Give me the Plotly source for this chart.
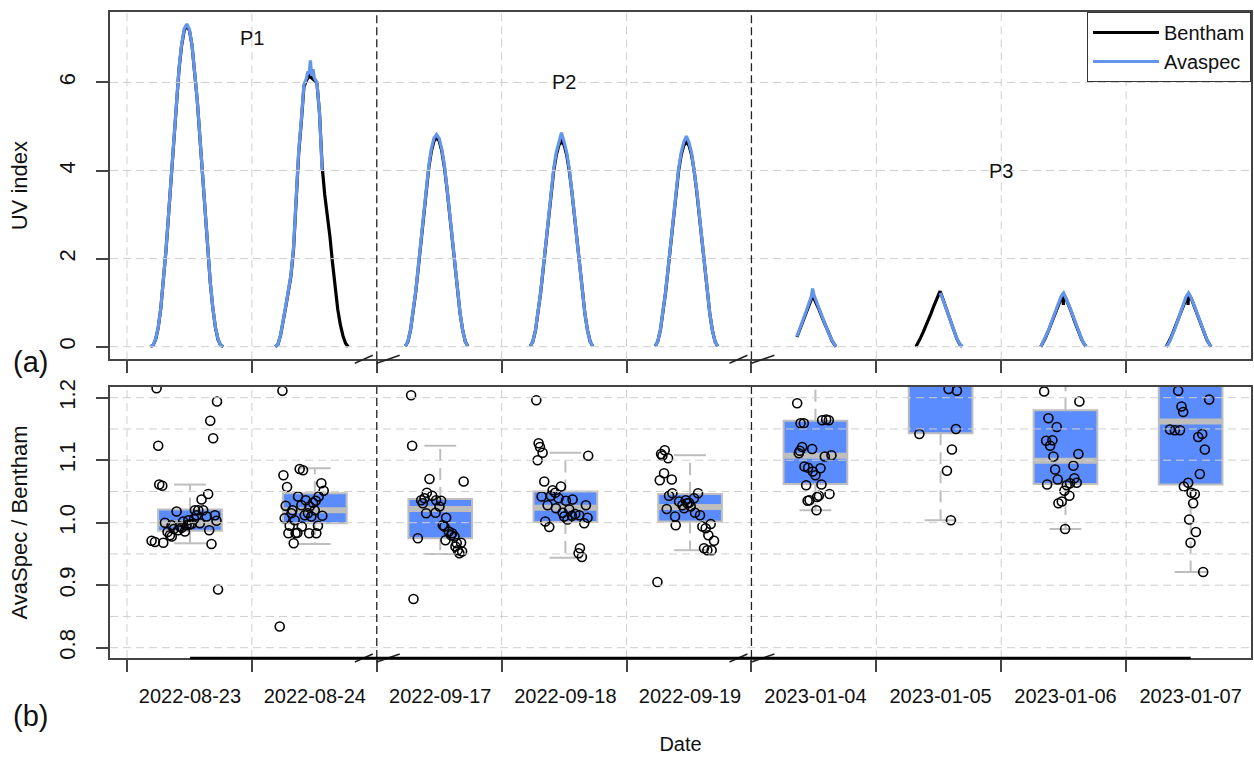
import plotly.graph_objects as go

# ---------------- data ----------------
DATES = ["2022-08-23", "2022-08-24", "2022-09-17", "2022-09-18", "2022-09-19",
         "2023-01-04", "2023-01-05", "2023-01-06", "2023-01-07"]
BREAK_DAYS = [2, 5]
PERIOD_LABELS = ["P1", "P2", "P3"]
PERIOD_X = [1.0, 3.5, 7.0]
PERIOD_Y = [7.0, 6.0, 4.0]
UV_TICKS = [0, 2, 4, 6]
RATIO_TICKS = [0.8, 0.9, 1.0, 1.1, 1.2]
RATIO_GRID = [0.80, 0.85, 0.90, 0.95, 1.00, 1.05, 1.10, 1.15, 1.20]

# UV index curves (hours UTC, values)
HOURS_AUG = [4.5, 5.0, 5.5, 6.0, 6.5, 7.0, 7.5, 8.0, 8.5, 9.0, 9.5, 10.0, 10.5, 11.0, 11.5,
             12.0, 12.5, 13.0, 13.5, 14.0, 14.5, 15.0, 15.5, 16.0, 16.5, 17.0, 17.5, 18.0, 18.5]
HOURS_SEP = [5.5, 6.0, 6.5, 7.0, 7.5, 8.0, 8.5, 9.0, 9.5, 10.0, 10.5, 11.0, 11.5,
             12.0, 12.5, 13.0, 13.5, 14.0, 14.5, 15.0, 15.5, 16.0, 16.5, 17.0, 17.5]

BEN_0823 = [0.00, 0.03, 0.16, 0.43, 0.87, 1.46, 2.19, 3.01, 3.90, 4.77, 5.60, 6.30, 6.84, 7.18, 7.30,
            7.18, 6.84, 6.30, 5.60, 4.77, 3.90, 3.01, 2.19, 1.46, 0.87, 0.43, 0.16, 0.03, 0.00]
AVA_0823 = [0.00, 0.03, 0.17, 0.44, 0.88, 1.47, 2.20, 3.03, 3.92, 4.79, 5.62, 6.33, 6.87, 7.22, 7.33,
            7.20, 6.85, 6.31, 5.61, 4.78, 3.91, 3.02, 2.20, 1.47, 0.88, 0.44, 0.17, 0.03, 0.00]

BEN_0824 = [0.00, 0.05, 0.25, 0.55, 0.90, 1.25, 1.60, 2.20, 3.40, 4.40, 5.10, 5.90, 6.05, 6.15, 6.10,
            6.05, 6.00, 5.30, 4.10, 3.45, 3.00, 2.50, 1.90, 1.30, 0.85, 0.50, 0.25, 0.08, 0.00]
HOURS_AVA_0824 = [4.5, 5.0, 5.5, 6.0, 6.5, 7.0, 7.5, 8.0, 8.5, 9.0, 9.5, 10.0, 10.5,
                  10.75, 11.0, 11.25, 11.5, 11.75, 12.0, 12.5, 13.0, 13.5]
AVA_0824 = [0.00, 0.05, 0.26, 0.56, 0.92, 1.27, 1.63, 2.25, 3.45, 4.45, 5.15, 5.95, 6.10,
            6.25, 6.20, 6.50, 6.15, 6.30, 6.10, 6.00, 5.30, 4.00]

BEN_0917 = [0.01, 0.12, 0.38, 0.76, 1.25, 1.81, 2.42, 3.02, 3.58, 4.07, 4.44, 4.67, 4.75,
            4.67, 4.44, 4.07, 3.58, 3.02, 2.42, 1.81, 1.25, 0.76, 0.38, 0.12, 0.01]
AVA_0917 = [0.01, 0.13, 0.39, 0.78, 1.28, 1.85, 2.46, 3.06, 3.62, 4.12, 4.50, 4.74, 4.82,
            4.73, 4.49, 4.11, 3.61, 3.05, 2.44, 1.83, 1.26, 0.77, 0.38, 0.12, 0.01]
BEN_0918 = [0.01, 0.12, 0.37, 0.75, 1.23, 1.78, 2.37, 2.96, 3.51, 3.99, 4.35, 4.58, 4.66,
            4.58, 4.35, 3.99, 3.51, 2.96, 2.37, 1.78, 1.23, 0.75, 0.37, 0.12, 0.01]
AVA_0918 = [0.01, 0.12, 0.38, 0.76, 1.25, 1.80, 2.40, 3.00, 3.56, 4.05, 4.42, 4.66, 4.86,
            4.65, 4.41, 4.04, 3.55, 2.99, 2.39, 1.79, 1.24, 0.75, 0.37, 0.12, 0.01]
BEN_0919 = [0.01, 0.12, 0.37, 0.75, 1.23, 1.78, 2.37, 2.96, 3.51, 3.99, 4.35, 4.57, 4.65,
            4.57, 4.35, 3.99, 3.51, 2.96, 2.37, 1.78, 1.23, 0.75, 0.37, 0.12, 0.01]
AVA_0919 = [0.01, 0.12, 0.38, 0.76, 1.25, 1.80, 2.40, 3.00, 3.55, 4.04, 4.41, 4.65, 4.78,
            4.64, 4.40, 4.03, 3.55, 2.99, 2.39, 1.79, 1.24, 0.75, 0.37, 0.12, 0.01]

HOURS_0104 = [8.75, 9.0, 9.5, 10.0, 10.5, 11.0, 11.5, 11.75, 12.0, 12.5, 13.0, 13.5,
              14.0, 14.5, 15.0, 15.5, 16.0, 16.25]
BEN_0104 = [0.22, 0.30, 0.45, 0.60, 0.76, 0.92, 1.06, 1.15, 1.10, 0.98, 0.84, 0.69,
            0.54, 0.39, 0.25, 0.13, 0.04, 0.00]
AVA_0104 = [0.23, 0.32, 0.48, 0.64, 0.80, 0.97, 1.14, 1.32, 1.18, 1.02, 0.86, 0.70,
            0.55, 0.40, 0.26, 0.14, 0.05, 0.00]

HOURS_BEN_0105 = [7.6, 8.0, 8.5, 9.0, 9.5, 10.0, 10.5, 11.0, 11.5, 12.0, 12.25, 12.5,
                  13.0, 13.5, 14.0, 14.5, 15.0, 15.5, 16.0, 16.5]
BEN_0105 = [0.00, 0.08, 0.20, 0.33, 0.46, 0.60, 0.75, 0.91, 1.07, 1.20, 1.26, 1.18,
            1.01, 0.83, 0.65, 0.48, 0.31, 0.17, 0.06, 0.00]
HOURS_AVA_0105 = [12.25, 12.5, 13.0, 13.5, 14.0, 14.5, 15.0, 15.5, 16.0, 16.5]
AVA_0105 = [1.22, 1.16, 1.00, 0.83, 0.66, 0.49, 0.32, 0.18, 0.07, 0.00]

HOURS_BEN_0106 = [7.6, 8.0, 8.5, 9.0, 9.5, 10.0, 10.5, 11.0, 11.5, 11.85, 11.95, 12.05,
                  12.5, 13.0, 13.5, 14.0, 14.5, 15.0, 15.5, 16.0, 16.3]
BEN_0106 = [0.00, 0.08, 0.20, 0.34, 0.50, 0.66, 0.82, 0.98, 1.12, 1.20, 0.95, 1.18,
            1.08, 0.94, 0.78, 0.61, 0.45, 0.29, 0.15, 0.05, 0.00]
HOURS_AVA_0106 = [7.6, 8.0, 8.5, 9.0, 9.5, 10.0, 10.5, 11.0, 11.5, 12.0, 12.5, 13.0,
                  13.5, 14.0, 14.5, 15.0, 15.5, 16.0, 16.3]
AVA_0106 = [0.00, 0.09, 0.21, 0.35, 0.51, 0.67, 0.83, 0.99, 1.14, 1.22, 1.10, 0.95,
            0.79, 0.62, 0.46, 0.30, 0.16, 0.05, 0.00]

HOURS_BEN_0107 = [7.7, 8.0, 8.5, 9.0, 9.5, 10.0, 10.5, 11.0, 11.5, 11.8, 11.9, 12.0,
                  12.5, 13.0, 13.5, 14.0, 14.5, 15.0, 15.5, 16.0, 16.3]
BEN_0107 = [0.00, 0.06, 0.18, 0.32, 0.47, 0.63, 0.79, 0.95, 1.10, 1.17, 0.95, 1.20,
            1.10, 0.95, 0.79, 0.62, 0.46, 0.30, 0.16, 0.06, 0.00]
HOURS_AVA_0107 = [7.7, 8.0, 8.5, 9.0, 9.5, 10.0, 10.5, 11.0, 11.5, 12.0, 12.5, 13.0,
                  13.5, 14.0, 14.5, 15.0, 15.5, 16.0, 16.3]
AVA_0107 = [0.00, 0.04, 0.15, 0.29, 0.45, 0.62, 0.80, 0.98, 1.13, 1.22, 1.11, 0.96,
            0.80, 0.63, 0.47, 0.31, 0.17, 0.06, 0.00]

BENTHAM = [(HOURS_AUG, BEN_0823), (HOURS_AUG, BEN_0824), (HOURS_SEP, BEN_0917),
           (HOURS_SEP, BEN_0918), (HOURS_SEP, BEN_0919), (HOURS_0104, BEN_0104),
           (HOURS_BEN_0105, BEN_0105), (HOURS_BEN_0106, BEN_0106), (HOURS_BEN_0107, BEN_0107)]
AVASPEC = [(HOURS_AUG, AVA_0823), (HOURS_AVA_0824, AVA_0824), (HOURS_SEP, AVA_0917),
           (HOURS_SEP, AVA_0918), (HOURS_SEP, AVA_0919), (HOURS_0104, AVA_0104),
           (HOURS_AVA_0105, AVA_0105), (HOURS_AVA_0106, AVA_0106), (HOURS_AVA_0107, AVA_0107)]

# AvaSpec / Bentham ratios (hour of measurement, ratio)
RH_0823 = [5.69, 6.0, 17.3, 16.0, 16.56, 6.2, 6.78, 15.6, 14.33, 9.53, 13.05, 13.7, 14.65, 16.9, 15.3,
           7.29, 8.57, 10.17, 11.45, 12.4, 14.0, 17.2, 9.85, 11.13, 15.8, 8.25, 8.6, 4.73, 5.37, 6.97,
           16.24, 17.5, 10.8, 11.8, 12.9, 13.4, 9.0, 10.5, 12.0, 7.8]
RV_0823 = [1.215, 1.123, 1.194, 1.163, 1.135, 1.061, 1.059, 1.046, 1.037, 1.018, 1.020, 1.020, 1.020,
           1.012, 1.010, 1.000, 0.996, 0.994, 0.996, 0.998, 0.999, 1.003, 0.988, 0.986, 0.988, 0.980,
           0.978, 0.971, 0.969, 0.968, 0.966, 0.893, 1.002, 1.004, 1.006, 1.012, 0.990, 0.992, 0.997, 0.985]
RH_0824 = [5.87, 6.06, 6.76, 9.19, 9.83, 13.35, 13.8, 12.83, 12.26, 8.87, 10.34, 6.5, 7.79, 9.51, 11.1,
           11.74, 7.6, 10.15, 11.43, 13.54, 6.31, 8.23, 7.27, 9.6, 12.7, 7.02, 8.4, 8.75, 11.0, 12.38,
           8.04, 5.35, 10.78, 12.07]
RV_0824 = [1.211, 1.076, 1.057, 1.086, 1.084, 1.063, 1.051, 1.042, 1.035, 1.042, 1.036, 1.027, 1.020,
           1.028, 1.026, 1.032, 1.015, 1.012, 1.010, 1.011, 1.007, 1.004, 0.995, 0.994, 0.995, 0.983,
           0.983, 0.984, 0.983, 0.983, 0.967, 0.834, 1.015, 1.020]
RH_0917 = [6.6, 6.8, 7.06, 10.13, 16.7, 7.89, 8.53, 9.17, 9.62, 10.64, 11.41, 12.37, 8.85, 9.49, 11.3,
           12.05, 13.33, 13.0, 13.84, 14.48, 13.2, 14.93, 15.37, 16.2, 15.56, 15.88, 16.4, 15.12, 14.29, 12.69]
RV_0917 = [1.204, 1.123, 0.878, 1.070, 1.066, 0.975, 1.036, 1.039, 1.048, 1.043, 1.036, 1.035, 1.031,
           1.015, 1.016, 1.026, 1.008, 0.994, 0.986, 0.983, 0.972, 0.978, 0.967, 0.968, 0.956, 0.951,
           0.954, 0.962, 0.980, 0.996]
RH_0918 = [6.66, 7.1, 7.36, 7.87, 6.91, 16.63, 8.19, 11.39, 9.79, 10.3, 9.47, 7.68, 10.94, 12.35, 13.63,
           16.19, 8.83, 10.43, 11.71, 12.99, 14.14, 14.91, 16.5, 12.67, 8.38, 15.87, 9.15, 15.04, 14.78,
           15.42, 13.5, 12.03]
RV_0918 = [1.196, 1.127, 1.121, 1.112, 1.100, 1.107, 1.066, 1.058, 1.052, 1.048, 1.043, 1.042, 1.039,
           1.035, 1.037, 1.028, 1.028, 1.023, 1.016, 1.021, 1.014, 1.012, 1.008, 1.005, 1.002, 0.999,
           0.993, 0.959, 0.951, 0.945, 1.011, 1.010]
RH_0919 = [5.93, 6.64, 7.34, 7.98, 6.89, 7.21, 6.38, 8.69, 8.81, 8.17, 7.72, 9.32, 9.45, 10.09, 10.73,
           11.37, 12.01, 12.97, 13.74, 12.33, 13.16, 14.12, 14.57, 15.21, 16.17, 15.72, 16.81, 14.89,
           15.53, 16.36, 11.05, 11.69]
RV_0919 = [0.905, 1.110, 1.116, 1.103, 1.107, 1.079, 1.068, 1.069, 1.047, 1.043, 1.022, 1.010, 0.996,
           1.034, 1.028, 1.036, 1.032, 1.039, 1.047, 1.026, 1.016, 1.012, 0.994, 0.991, 0.998, 0.980,
           0.971, 0.959, 0.956, 0.956, 1.023, 1.031]
RH_0104 = [8.79, 9.43, 10.07, 13.59, 14.36, 14.87, 9.75, 11.67, 9.11, 9.3, 14.1, 15.38, 10.2, 10.9,
           13.27, 11.8, 12.3, 10.52, 13.46, 12.95, 11.16, 10.8, 15.0, 12.62, 12.5]
RV_0104 = [1.191, 1.159, 1.159, 1.164, 1.165, 1.164, 1.121, 1.118, 1.111, 1.115, 1.106, 1.108, 1.090,
           1.088, 1.087, 1.082, 1.076, 1.060, 1.061, 1.043, 1.036, 1.035, 1.046, 1.041, 1.020]
RH_0105 = [13.89, 15.49, 8.27, 15.3, 14.53, 13.57, 14.33]
RV_0105 = [1.214, 1.211, 1.142, 1.150, 1.117, 1.083, 1.004]
RH_0106 = [8.25, 15.02, 9.07, 10.67, 8.63, 9.84, 9.4, 10.03, 14.83, 10.36, 13.87, 10.86, 14.06, 8.82,
           12.59, 13.23, 14.51, 12.14, 13.1, 11.63, 10.99, 12.28]
RV_0106 = [1.210, 1.194, 1.167, 1.153, 1.131, 1.132, 1.123, 1.106, 1.110, 1.085, 1.091, 1.069, 1.071,
           1.061, 1.060, 1.063, 1.064, 1.051, 1.043, 1.034, 1.031, 0.990]
RH_0107 = [10.01, 15.96, 10.65, 10.97, 8.42, 9.38, 10.34, 13.85, 14.62, 15.13, 14.17, 11.93, 11.1,
           12.57, 13.21, 12.89, 12.12, 13.41, 12.38, 14.81]
RV_0107 = [1.211, 1.197, 1.186, 1.177, 1.149, 1.148, 1.148, 1.137, 1.142, 1.117, 1.078, 1.064, 1.058,
           1.048, 1.046, 1.031, 1.005, 0.985, 0.968, 0.921]

RATIOS = [(RH_0823, RV_0823), (RH_0824, RV_0824), (RH_0917, RV_0917), (RH_0918, RV_0918),
          (RH_0919, RV_0919), (RH_0104, RV_0104), (RH_0105, RV_0105), (RH_0106, RV_0106),
          (RH_0107, RV_0107)]

# boxplot statistics per day
BOX_CENTER_H = [12.1, 12.1, 12.2, 12.25, 12.2, 12.3, 12.35, 12.35, 12.4]
BOX_Q1 = [0.987, 0.999, 0.975, 1.001, 1.002, 1.062, 1.143, 1.062, 1.061]
BOX_MED = [0.999, 1.020, 1.022, 1.024, 1.025, 1.107, 1.260, 1.099, 1.162]
BOX_Q3 = [1.021, 1.047, 1.038, 1.050, 1.046, 1.163, 1.330, 1.180, 1.260]
BOX_LO = [0.967, 0.966, 0.950, 0.944, 0.956, 1.020, 1.004, 0.990, 0.921]
BOX_HI = [1.061, 1.087, 1.123, 1.112, 1.108, 1.240, 1.450, 1.240, 1.380]

# ---------------- styling ----------------
W, H = 1254, 758
ML, MR, MT, MB = 110, 1, 12, 100
PLOT_H = H - MT - MB
PLOT_W = W - ML - MR
TOP_DOM = [0.4624, 1.0]
BOT_DOM = [0.0, 0.4195]
X_RANGE = [-0.136, 9.0]
BOX_W = 0.51
FONT = "Liberation Sans, Arial, Helvetica, sans-serif"
BLUE_LINE = "#6495ED"
BOX_FILL = "#5A8CFF"
BOX_GRAY = "#BEBEBE"
GRID = "#CFCFCF"
FRAME = "#444444"
TXT = "#111111"

px_per_day = PLOT_W / (X_RANGE[1] - X_RANGE[0])


def day_x(i, hours):
    return [i + h / 24.0 for h in hours]


def joined(series):
    xs, ys = [], []
    for i, (hrs, vals) in enumerate(series):
        xs += day_x(i, hrs) + [None]
        ys += list(vals) + [None]
    return xs, ys


fig = go.Figure()

bx, by = joined(BENTHAM)
fig.add_trace(go.Scatter(x=bx, y=by, mode="lines", name="Bentham",
                         line=dict(color="black", width=3.2), xaxis="x", yaxis="y"))
ax_, ay_ = joined(AVASPEC)
fig.add_trace(go.Scatter(x=ax_, y=ay_, mode="lines", name="Avaspec",
                         line=dict(color=BLUE_LINE, width=3.2), xaxis="x", yaxis="y"))

centers = [i + c / 24.0 for i, c in enumerate(BOX_CENTER_H)]
fig.add_trace(go.Bar(x=centers, base=BOX_Q1, y=[q3 - q1 for q1, q3 in zip(BOX_Q1, BOX_Q3)],
                     width=BOX_W, marker=dict(color=BOX_FILL, line=dict(color=BOX_GRAY, width=2)),
                     showlegend=False, xaxis="x2", yaxis="y2", hoverinfo="skip"))

mx, my, wx, wy, cx, cy = [], [], [], [], [], []
for c, q1, m, q3, lo, hi in zip(centers, BOX_Q1, BOX_MED, BOX_Q3, BOX_LO, BOX_HI):
    mx += [c - BOX_W / 2, c + BOX_W / 2, None]
    my += [m, m, None]
    wx += [c, c, None, c, c, None]
    wy += [q3, hi, None, q1, lo, None]
    cx += [c - BOX_W / 4, c + BOX_W / 4, None, c - BOX_W / 4, c + BOX_W / 4, None]
    cy += [hi, hi, None, lo, lo, None]
fig.add_trace(go.Scatter(x=wx, y=wy, mode="lines", line=dict(color=BOX_GRAY, width=2, dash="12px,7px"),
                         showlegend=False, xaxis="x2", yaxis="y2", hoverinfo="skip"))
fig.add_trace(go.Scatter(x=cx, y=cy, mode="lines", line=dict(color=BOX_GRAY, width=2),
                         showlegend=False, xaxis="x2", yaxis="y2", hoverinfo="skip"))
fig.add_trace(go.Scatter(x=mx, y=my, mode="lines", line=dict(color=BOX_GRAY, width=6),
                         showlegend=False, xaxis="x2", yaxis="y2", hoverinfo="skip"))

px_, py_ = [], []
for i, (hrs, vals) in enumerate(RATIOS):
    px_ += day_x(i, hrs)
    py_ += vals
fig.add_trace(go.Scatter(x=px_, y=py_, mode="markers",
                         marker=dict(symbol="circle-open", size=9, color="black", line=dict(width=1.6)),
                         showlegend=False, xaxis="x2", yaxis="y2"))

# invisible trace that carries the date-label axis (x3 over the lower panel)
fig.add_trace(go.Scatter(x=centers, y=BOX_Q1, mode="markers", marker=dict(opacity=0),
                         showlegend=False, hoverinfo="skip", xaxis="x3", yaxis="y2"))

# ---------------- shapes (grid above, breaks) ----------------
shapes = []
grid_line = dict(color=GRID, width=1, dash="8px,5px")
day_bounds = list(range(len(DATES)))
for xa, ya, yvals in (("x", "y", UV_TICKS), ("x2", "y2", RATIO_GRID)):
    for v in yvals:
        shapes.append(dict(type="line", xref=xa + " domain", yref=ya, x0=0, x1=1, y0=v, y1=v,
                           line=grid_line, layer="above"))
    for d in day_bounds:
        if d in BREAK_DAYS:
            shapes.append(dict(type="line", xref=xa, yref=ya + " domain", x0=d, x1=d, y0=0, y1=1,
                               line=dict(color="#222222", width=1.3, dash="8px,4px"), layer="above"))
        else:
            shapes.append(dict(type="line", xref=xa, yref=ya + " domain", x0=d, x1=d, y0=0, y1=1,
                               line=grid_line, layer="above"))

# axis break marks on the bottom axis line of both panels
dy = 4.0 / PLOT_H
for yb in (TOP_DOM[0], BOT_DOM[0]):
    for d in BREAK_DAYS:
        for a, b in ((-22, -4), (0, 23)):
            shapes.append(dict(type="line", xref="x", yref="paper",
                               x0=d + a / px_per_day, x1=d + b / px_per_day,
                               y0=yb - dy, y1=yb + dy, line=dict(color="#222222", width=1.5),
                               layer="above"))

# black axis line spanning the box positions in the lower panel
shapes.append(dict(type="line", xref="x2", yref="y2 domain", x0=centers[0], x1=centers[-1],
                   y0=0, y1=0, line=dict(color="black", width=2.5), layer="above"))

annotations = []
for t, xv, yv in zip(PERIOD_LABELS, PERIOD_X, PERIOD_Y):
    annotations.append(dict(text=t, x=xv, y=yv, xref="x", yref="y", showarrow=False,
                            font=dict(size=20, color=TXT)))
for lab, ypix in (("(a)", 362), ("(b)", 716)):
    annotations.append(dict(text=lab, x=(30 - ML) / PLOT_W, y=(H - MB - ypix) / PLOT_H,
                            xref="paper", yref="paper", xanchor="center", yanchor="middle",
                            showarrow=False, font=dict(size=29, color=TXT)))

axis_common = dict(showline=True, mirror=True, linecolor=FRAME, linewidth=1.5, zeroline=False,
                   showgrid=False, ticks="outside", ticklen=12, tickwidth=1.5, tickcolor=FRAME)

fig.update_layout(
    width=W, height=H,
    margin=dict(l=ML, r=MR, t=MT, b=MB),
    paper_bgcolor="white", plot_bgcolor="white",
    font=dict(family=FONT, size=20, color=TXT),
    shapes=shapes, annotations=annotations,
    showlegend=True,
    legend=dict(x=1, y=1, xanchor="right", yanchor="top", bgcolor="white",
                bordercolor="#333333", borderwidth=1, font=dict(size=20), itemwidth=66,
                tracegroupgap=0),
    xaxis=dict(domain=[0, 1], range=X_RANGE, anchor="y", tickvals=day_bounds,
               showticklabels=False, **axis_common),
    xaxis2=dict(domain=[0, 1], range=X_RANGE, anchor="y2", tickvals=day_bounds,
                showticklabels=False, **axis_common),
    xaxis3=dict(domain=[0, 1], range=X_RANGE, overlaying="x2", anchor="y2", side="bottom",
                tickvals=centers, ticktext=DATES, ticks="outside", ticklen=20,
                tickcolor="rgba(0,0,0,0)", showline=False, showgrid=False, zeroline=False,
                tickfont=dict(size=20),
                title=dict(text="Date", standoff=30, font=dict(size=20))),
    yaxis=dict(domain=TOP_DOM, range=[-0.286, 7.6], anchor="x", tickvals=UV_TICKS,
               tickangle=-90, tickfont=dict(size=22), ticklabelstandoff=12,
               title=dict(text="UV index", standoff=22, font=dict(size=22)), **axis_common),
    yaxis2=dict(domain=BOT_DOM, range=[0.7835, 1.2171], anchor="x2", tickvals=RATIO_TICKS,
                ticktext=["0.8", "0.9", "1.0", "1.1", "1.2"], tickangle=-90, tickfont=dict(size=22),
                ticklabelstandoff=12,
                title=dict(text="AvaSpec / Bentham", standoff=22, font=dict(size=22)), **axis_common),
)

fig.write_html("out.html")
